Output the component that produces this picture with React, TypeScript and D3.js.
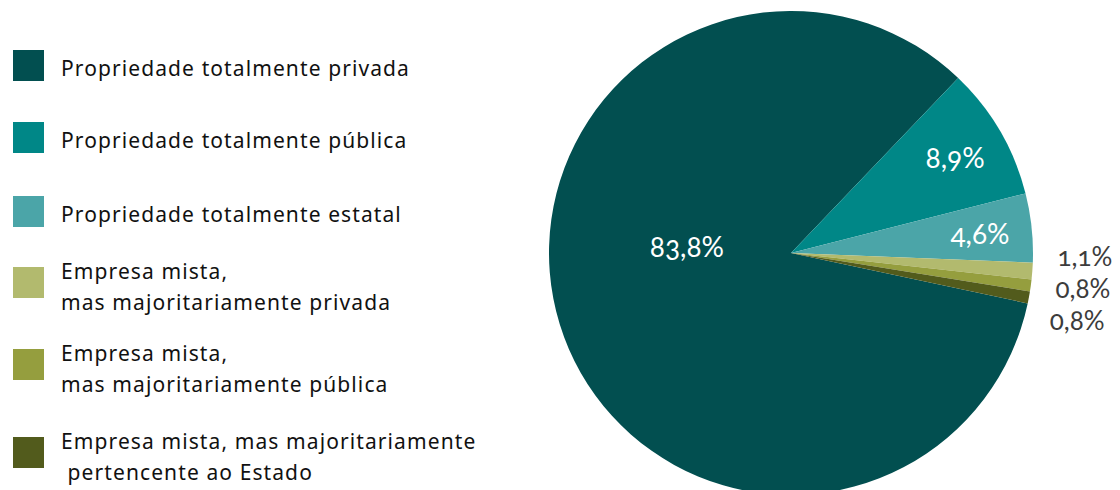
import React, { useEffect, useRef } from 'react';
import * as d3 from 'd3';

const categories = [
  'Propriedade totalmente privada',
  'Propriedade totalmente pública',
  'Propriedade totalmente estatal',
  'Empresa mista,\nmas majoritariamente privada',
  'Empresa mista,\nmas majoritariamente pública',
  'Empresa mista, mas majoritariamente\n pertencente ao Estado',
];
const shares = [83.8, 8.9, 4.6, 1.1, 0.8, 0.8];
const shareLabels = ['83,8%', '8,9%', '4,6%', '1,1%', '0,8%', '0,8%'];
const colors = ['#024f50', '#008787', '#4ba5a8', '#b2ba6e', '#959e3e', '#525b1c'];

const W = 1120;
const H = 490;

const App = () => {
  const ref = useRef<SVGSVGElement>(null);

  useEffect(() => {
    const svg = d3.select(ref.current);
    svg.selectAll('*').remove();

    const cx = 791;
    const cy = 253;
    const R = 242;
    const font = 'Lato, "Open Sans", sans-serif';

    // legend
    const legendTop = [50, 122, 196, 267, 349, 437];
    const lg = svg.append('g')
      .attr('font-family', '"Noto Sans", sans-serif')
      .attr('font-size', 21)
      .attr('letter-spacing', 1.1)
      .attr('fill', '#111');
    categories.forEach((c, i) => {
      const y = legendTop[i];
      lg.append('rect').attr('x', 13).attr('y', y).attr('width', 31).attr('height', 31).attr('fill', colors[i]);
      const lines = c.split('\n');
      const t = lg.append('text').attr('x', 61).style('white-space', 'pre');
      const base = lines.length === 1 ? y + 26 : y + 12;
      lines.forEach((ln, j) => {
        t.append('tspan').attr('x', 61).attr('y', base + j * 31).text(ln);
      });
    });

    // pie
    const a0 = (43.7 / 180) * Math.PI - (shares[0] / 100) * 2 * Math.PI;
    const pie = d3.pie<number>().sort(null).value(d => d).startAngle(a0).endAngle(a0 + 2 * Math.PI);
    const arcs = pie(shares);
    const arc = d3.arc<d3.PieArcDatum<number>>().innerRadius(0).outerRadius(R);

    const g = svg.append('g').attr('transform', `translate(${cx},${cy})`);
    g.selectAll('path')
      .data(arcs)
      .join('path')
      .attr('d', arc)
      .attr('fill', (_, i) => colors[i]);

    const textStyle = (s: d3.Selection<SVGTextElement, unknown, null, undefined>, size: number) =>
      s.attr('font-family', font).attr('font-size', size).attr('text-anchor', 'middle')
        .attr('dominant-baseline', 'central').style('font-variant-numeric', 'oldstyle-nums');

    // big slice label sits left of centre
    g.append('text').call(textStyle, 28).attr('x', -0.43 * R).attr('y', -7).attr('fill', '#fff').text(shareLabels[0]);

    // inner labels
    const inner = d3.arc<d3.PieArcDatum<number>>().innerRadius(190).outerRadius(190);
    [1, 2].forEach(i => {
      const [x, y] = inner.centroid(arcs[i]);
      g.append('text').call(textStyle, 28).attr('x', x).attr('y', y).attr('fill', '#fff').text(shareLabels[i]);
    });

    // outside labels, spread vertically
    const outR = 294;
    const small = [3, 4, 5];
    const ys = small.map(i => {
      const m = (arcs[i].startAngle + arcs[i].endAngle) / 2;
      return -outR * Math.cos(m);
    });
    const mean = d3.mean(ys) as number;
    small.forEach((i, k) => {
      const y = mean + (k - 1) * 32 - 3;
      const x = Math.sqrt(outR * outR - y * y);
      g.append('text').call(textStyle, 26).attr('x', x).attr('y', y).attr('fill', '#3c3c3c').text(shareLabels[i]);
    });
  }, []);

  return (
    <svg ref={ref} width={W} height={H} style={{ position: 'absolute', left: 0, top: 0, background: '#fff' }} />
  );
};

export default App;
